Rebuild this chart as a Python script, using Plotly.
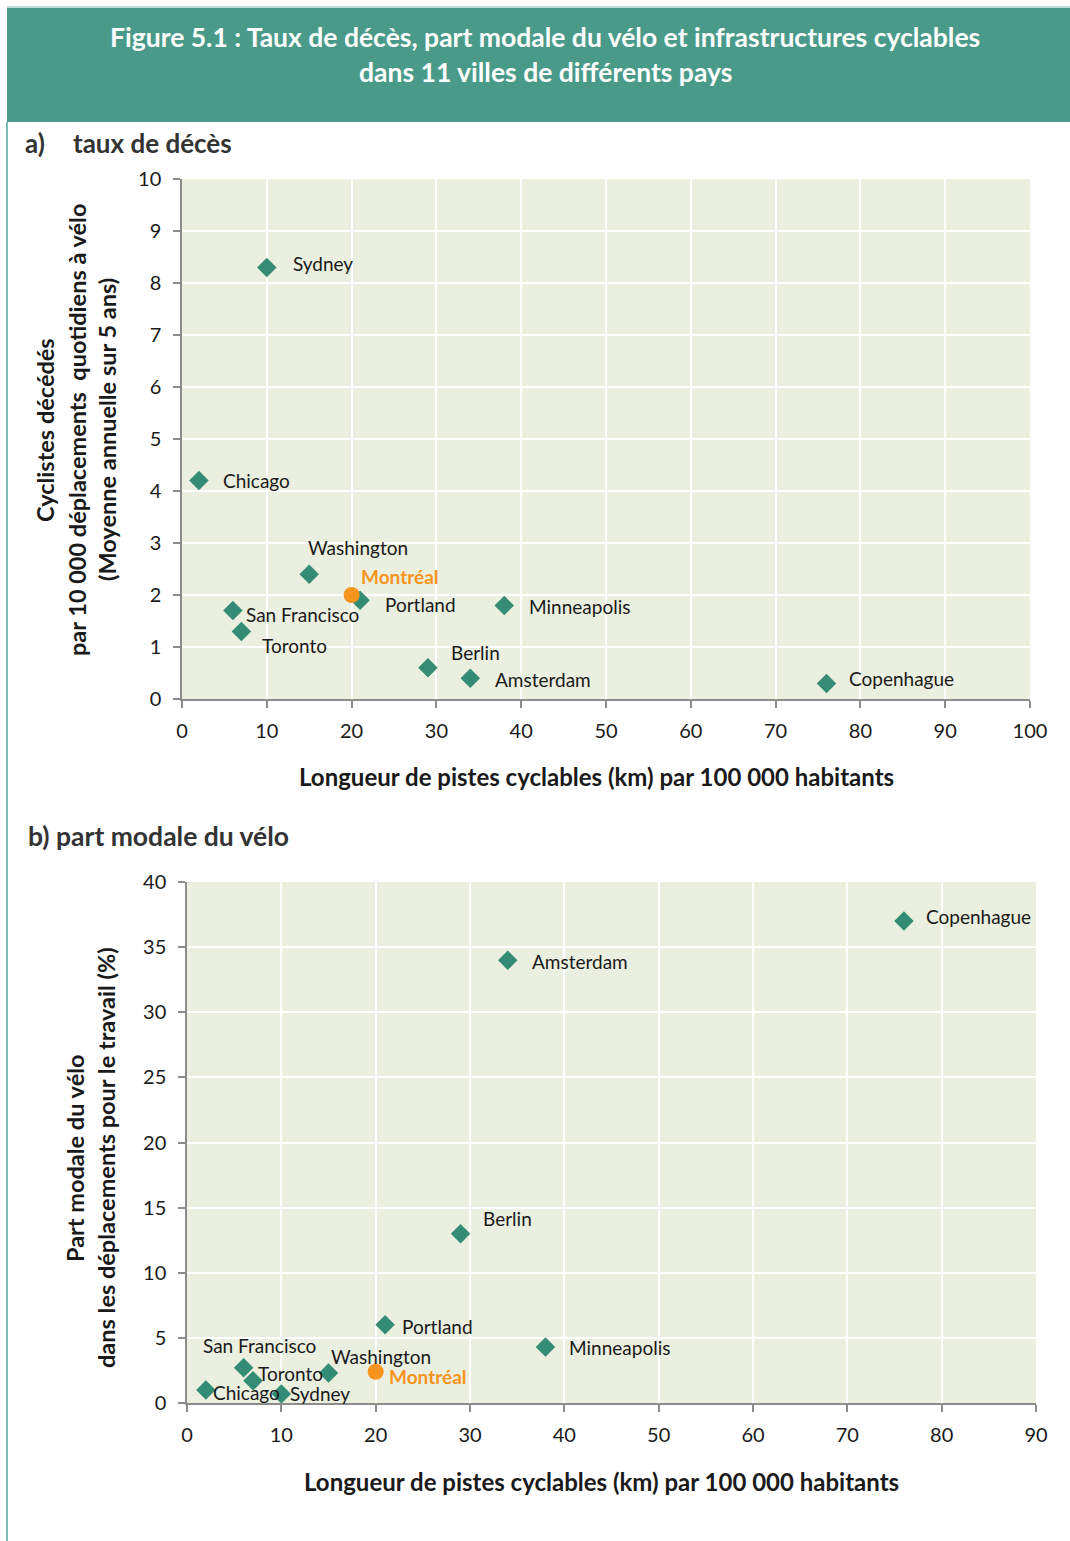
import plotly.graph_objects as go

W, H = 1070, 1541

# ---------------- DATA ----------------
cities_a = ["Sydney", "Chicago", "Washington", "Portland", "San Francisco", "Toronto",
            "Berlin", "Amsterdam", "Minneapolis", "Copenhague"]
pistes_a = [10, 2, 15, 21, 6, 7, 29, 34, 38, 76]
deces_a = [8.3, 4.2, 2.4, 1.9, 1.7, 1.3, 0.6, 0.4, 1.8, 0.3]
mtl_pistes_a = [20]
mtl_deces_a = [2.0]

cities_b = ["Copenhague", "Amsterdam", "Berlin", "Portland", "Minneapolis", "San Francisco",
            "Toronto", "Washington", "Chicago", "Sydney"]
pistes_b = [76, 34, 29, 21, 38, 6, 7, 15, 2, 10]
part_b = [37, 34, 13, 6, 4.3, 2.7, 1.7, 2.3, 1.0, 0.7]
mtl_pistes_b = [20]
mtl_part_b = [2.4]

xticks_a = [0, 10, 20, 30, 40, 50, 60, 70, 80, 90, 100]
yticks_a = [0, 1, 2, 3, 4, 5, 6, 7, 8, 9, 10]
xticks_b = [0, 10, 20, 30, 40, 50, 60, 70, 80, 90]
yticks_b = [0, 5, 10, 15, 20, 25, 30, 35, 40]

# label offsets (pixels, style only)
off_a = {"Sydney": (24, 4), "Chicago": (22, 0), "Washington": (-3, 27), "Portland": (23, -4),
         "San Francisco": (11, -4), "Toronto": (19, -14), "Berlin": (21, 15),
         "Amsterdam": (23, -1), "Minneapolis": (23, -1), "Copenhague": (21, 5),
         "Montréal": (7, 18)}
off_b = {"Copenhague": (20, 5), "Amsterdam": (22, -1), "Berlin": (20, 15), "Portland": (15, -2),
         "Minneapolis": (22, -1), "San Francisco": (-43, 22), "Toronto": (3, 7),
         "Washington": (0, 17), "Chicago": (5, -3), "Sydney": (7, 0), "Montréal": (11, -5)}

# ---------------- STYLE ----------------
FONT = "Lato"
TEAL = "#358c74"
ORANGE = "#f7941d"
HEADER = "#4a9a8a"
BG = "#ebefdf"
TXT = "#1a1a1a"


def px(x):
    return x / W


def py(y):
    return 1 - y / H


fig = go.Figure()

fig.add_trace(go.Scatter(x=pistes_a, y=deces_a, mode="markers", xaxis="x", yaxis="y",
                         marker=dict(symbol="diamond", size=15, color=TEAL), showlegend=False))
fig.add_trace(go.Scatter(x=mtl_pistes_a, y=mtl_deces_a, mode="markers", xaxis="x", yaxis="y",
                         marker=dict(symbol="circle", size=16, color=ORANGE), showlegend=False))
fig.add_trace(go.Scatter(x=pistes_b, y=part_b, mode="markers", xaxis="x2", yaxis="y2",
                         marker=dict(symbol="diamond", size=15, color=TEAL), showlegend=False))
fig.add_trace(go.Scatter(x=mtl_pistes_b, y=mtl_part_b, mode="markers", xaxis="x2", yaxis="y2",
                         marker=dict(symbol="circle", size=16, color=ORANGE), showlegend=False))

ann = []


def label(xr, yr, x, y, text, off, color=TXT, bold=False):
    ann.append(dict(xref=xr, yref=yr, x=x, y=y, text=f"<b>{text}</b>" if bold else text,
                    showarrow=False, xanchor="left", yanchor="middle",
                    xshift=off[0], yshift=off[1],
                    font=dict(family=FONT, size=19, color=color)))


for c, x, y in zip(cities_a, pistes_a, deces_a):
    label("x", "y", x, y, c, off_a[c])
label("x", "y", mtl_pistes_a[0], mtl_deces_a[0], "Montréal", off_a["Montréal"], ORANGE, True)
for c, x, y in zip(cities_b, pistes_b, part_b):
    label("x2", "y2", x, y, c, off_b[c])
label("x2", "y2", mtl_pistes_b[0], mtl_part_b[0], "Montréal", off_b["Montréal"], ORANGE, True)


def paper_text(x, y, text, size, color=TXT, bold=True, xanchor="center", angle=0):
    ann.append(dict(xref="paper", yref="paper", x=px(x), y=py(y),
                    text=f"<b>{text}</b>" if bold else text, showarrow=False,
                    xanchor=xanchor, yanchor="middle", textangle=angle,
                    font=dict(family=FONT, size=size, color=color)))


# header
paper_text(545, 37, "Figure 5.1 : Taux de décès, part modale du vélo et infrastructures cyclables", 26.5, "white")
paper_text(545, 72, "dans 11 villes de différents pays", 26.5, "white")
# subtitles
paper_text(23, 143, "a)", 26, "#333333", xanchor="left")
paper_text(71, 143, "taux de décès", 26, "#333333", xanchor="left")
paper_text(26, 836, "b) part modale du vélo", 26.5, "#333333", xanchor="left")
# x-axis titles
paper_text(596, 777, "Longueur de pistes cyclables (km) par 100 000 habitants", 24)
paper_text(601, 1481, "Longueur de pistes cyclables (km) par 100 000 habitants", 24)
# y-axis titles
paper_text(45, 430, "Cyclistes décédés", 23.5, angle=-90)
paper_text(77, 430, "par 10 000 déplacements  quotidiens à vélo", 23.5, angle=-90)
paper_text(107, 430, "(Moyenne annuelle sur 5 ans)", 23.5, angle=-90)
paper_text(75, 1158, "Part modale du vélo", 23.5, angle=-90)
paper_text(106, 1158, "dans les déplacements pour le travail (%)", 23.5, angle=-90)

shapes = [
    dict(type="rect", xref="paper", yref="paper", x0=px(7), x1=1.0, y0=py(122), y1=py(8),
         fillcolor=HEADER, line=dict(width=0), layer="below"),
    dict(type="line", xref="paper", yref="paper", x0=px(7), x1=px(7), y0=0, y1=py(122),
         line=dict(color="#7dbdb1", width=2)),
    dict(type="line", xref="paper", yref="paper", x0=px(7), x1=1.0, y0=py(7), y1=py(7),
         line=dict(color="#7dbdb1", width=1)),
]

axis_common = dict(showgrid=True, gridcolor="white", gridwidth=2, showline=True,
                   linecolor="#8c8c8c", linewidth=1.5, ticks="outside", ticklen=7,
                   tickcolor="#8c8c8c", tickwidth=1.5, zeroline=False, automargin=False,
                   tickfont=dict(family=FONT, size=20, color=TXT), fixedrange=True)

fig.update_layout(
    width=W, height=H, margin=dict(l=0, r=0, t=0, b=0, pad=0, autoexpand=False), autosize=False,
    paper_bgcolor="white", plot_bgcolor=BG, showlegend=False,
    xaxis=dict(domain=[px(182), px(1030)], range=[0, 100], tickvals=xticks_a,
               anchor="y", ticklabelstandoff=6, **axis_common),
    yaxis=dict(domain=[py(699), py(179)], range=[0, 10], tickvals=yticks_a,
               anchor="x", ticklabelstandoff=8, **axis_common),
    xaxis2=dict(domain=[px(187), px(1036)], range=[0, 90], tickvals=xticks_b,
                anchor="y2", ticklabelstandoff=6, **axis_common),
    yaxis2=dict(domain=[py(1403), py(882)], range=[0, 40], tickvals=yticks_b,
                anchor="x2", ticklabelstandoff=8, **axis_common),
    annotations=ann, shapes=shapes,
)

fig.write_html("out.html", config={"displayModeBar": False})
